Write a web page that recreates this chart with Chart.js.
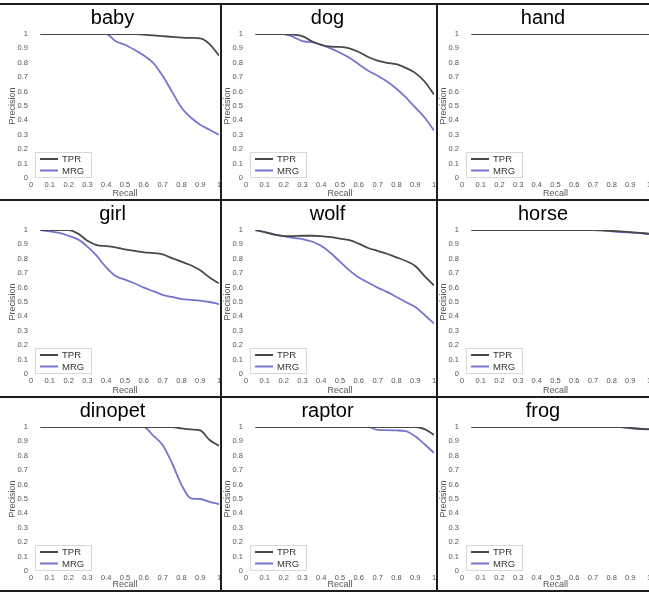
<!DOCTYPE html>
<html>
<head>
<meta charset="utf-8">
<script src="https://cdn.jsdelivr.net/npm/chart.js@4/dist/chart.umd.min.js"></script>
<style>
  html, body { margin: 0; padding: 0; background: #fff; }
  #wrap { position: relative; width: 649px; height: 594px; overflow: hidden; background: #fff; }
  #wrap canvas { position: absolute; }
  .rule { position: absolute; background: #1e1e1e; }
</style>
</head>
<body>
<div id="wrap"></div>
<script>
// Recall grid shared by every curve
const recall = [0.05, 0.1, 0.15, 0.2, 0.25, 0.3, 0.35, 0.4, 0.45, 0.5,
                0.55, 0.6, 0.65, 0.7, 0.75, 0.8, 0.85, 0.9, 0.95, 1.0];

const tickLabels = ['0', '0.1', '0.2', '0.3', '0.4', '0.5', '0.6', '0.7', '0.8', '0.9', '1'];

// Precision values
const babyTPR = [1, 1, 1, 1, 1, 1, 1, 1, 1, 1, 1, 0.995, 0.99, 0.985, 0.98, 0.975, 0.973, 0.97, 0.93, 0.85];
const babyMRG = [1, 1, 1, 1, 1, 1, 1, 1, 0.95, 0.925, 0.89, 0.85, 0.8, 0.71, 0.6, 0.49, 0.42, 0.37, 0.335, 0.3];

const dogTPR = [1, 1, 1, 1, 0.995, 0.985, 0.95, 0.925, 0.912, 0.91, 0.9, 0.875, 0.84, 0.815, 0.8, 0.79, 0.765, 0.73, 0.67, 0.58];
const dogMRG = [1, 1, 1, 1, 0.98, 0.95, 0.943, 0.925, 0.9, 0.87, 0.835, 0.79, 0.745, 0.71, 0.67, 0.62, 0.56, 0.49, 0.42, 0.33];

const handTPR = [1, 1, 1, 1, 1, 1, 1, 1, 1, 1, 1, 1, 1, 1, 1, 1, 1, 1, 1, 1];
const handMRG = [1, 1, 1, 1, 1, 1, 1, 1, 1, 1, 1, 1, 1, 1, 1, 1, 1, 1, 1, 1];

const girlTPR = [1, 1, 1, 1, 0.975, 0.925, 0.895, 0.888, 0.88, 0.865, 0.855, 0.845, 0.84, 0.83, 0.805, 0.78, 0.755, 0.72, 0.67, 0.63];
const girlMRG = [1, 0.99, 0.98, 0.96, 0.935, 0.885, 0.82, 0.74, 0.68, 0.655, 0.63, 0.6, 0.575, 0.55, 0.535, 0.52, 0.515, 0.51, 0.5, 0.485];

const wolfTPR = [1, 0.985, 0.968, 0.958, 0.958, 0.96, 0.96, 0.957, 0.95, 0.94, 0.93, 0.905, 0.875, 0.855, 0.835, 0.81, 0.785, 0.75, 0.68, 0.615];
const wolfMRG = [1, 0.985, 0.97, 0.957, 0.945, 0.937, 0.92, 0.89, 0.84, 0.78, 0.72, 0.67, 0.635, 0.6, 0.57, 0.535, 0.5, 0.465, 0.41, 0.35];

const horseTPR = [1, 1, 1, 1, 1, 1, 1, 1, 1, 1, 1, 1, 1, 1, 0.998, 0.993, 0.99, 0.985, 0.98, 0.975];
const horseMRG = [1, 1, 1, 1, 1, 1, 1, 1, 1, 1, 1, 1, 1, 1, 0.997, 0.99, 0.985, 0.982, 0.978, 0.972];

const dinopetTPR = [1, 1, 1, 1, 1, 1, 1, 1, 1, 1, 1, 1, 1, 1, 1, 0.99, 0.983, 0.976, 0.91, 0.87];
const dinopetMRG = [1, 1, 1, 1, 1, 1, 1, 1, 1, 1, 1, 1, 0.94, 0.875, 0.75, 0.6, 0.505, 0.5, 0.48, 0.465];

const raptorTPR = [1, 1, 1, 1, 1, 1, 1, 1, 1, 1, 1, 1, 1, 1, 1, 1, 1, 1, 0.985, 0.945];
const raptorMRG = [1, 1, 1, 1, 1, 1, 1, 1, 1, 1, 1, 1, 1, 0.98, 0.978, 0.976, 0.972, 0.935, 0.88, 0.82];

const frogTPR = [1, 1, 1, 1, 1, 1, 1, 1, 1, 1, 1, 1, 1, 1, 1, 1, 1, 0.993, 0.988, 0.985];
const frogMRG = [1, 1, 1, 1, 1, 1, 1, 1, 1, 1, 1, 1, 1, 1, 1, 1, 1, 0.992, 0.987, 0.983];

const panels = [
    { name: 'baby', tpr: babyTPR, mrg: babyMRG },
    { name: 'dog', tpr: dogTPR, mrg: dogMRG },
    { name: 'hand', tpr: handTPR, mrg: handMRG },
    { name: 'girl', tpr: girlTPR, mrg: girlMRG },
    { name: 'wolf', tpr: wolfTPR, mrg: wolfMRG },
    { name: 'horse', tpr: horseTPR, mrg: horseMRG },
    { name: 'dinopet', tpr: dinopetTPR, mrg: dinopetMRG },
    { name: 'raptor', tpr: raptorTPR, mrg: raptorMRG },
    { name: 'frog', tpr: frogTPR, mrg: frogMRG },
];

// grid geometry
const cols = [{ x: 0, w: 221, padL: 6, padR: 2 }, { x: 221, w: 216, padL: 0, padR: 3 }, { x: 437, w: 212, padL: 0, padR: 0 }];
const rows = [{ y: 4, h: 196 }, { y: 200, h: 197 }, { y: 397, h: 194 }];

const TPR_COLOR = '#484848';
const MRG_COLOR = '#7575cf';
const FONT = "'Liberation Sans', Arial, sans-serif";

// legend box drawn inside the plot, bottom-left
const insideLegend = {
    id: 'insideLegend',
    afterDatasetsDraw(chart) {
        const { ctx, chartArea } = chart;
        const bx = chartArea.left + 4, by = chartArea.bottom - 26, bw = 56, bh = 25;
        ctx.save();
        ctx.fillStyle = '#fff';
        ctx.fillRect(bx, by, bw, bh);
        ctx.strokeStyle = '#d8d8d8';
        ctx.lineWidth = 1;
        ctx.strokeRect(bx + 0.5, by + 0.5, bw, bh);
        ctx.font = '9.5px ' + FONT;
        ctx.textBaseline = 'middle';
        chart.data.datasets.forEach((ds, i) => {
            const ly = by + 7 + i * 11.5;
            ctx.strokeStyle = ds.borderColor;
            ctx.lineWidth = 2;
            ctx.beginPath();
            ctx.moveTo(bx + 5, ly);
            ctx.lineTo(bx + 23, ly);
            ctx.stroke();
            ctx.fillStyle = '#333';
            ctx.fillText(ds.label, bx + 27, ly + 0.5);
        });
        ctx.restore();
    }
};

const wrap = document.getElementById('wrap');

panels.forEach((p, idx) => {
    const col = cols[idx % 3];
    const row = rows[Math.floor(idx / 3)];
    const canvas = document.createElement('canvas');
    canvas.width = col.w;
    canvas.height = row.h;
    canvas.style.left = col.x + 'px';
    canvas.style.top = row.y + 'px';
    wrap.appendChild(canvas);

    new Chart(canvas, {
        type: 'line',
        data: {
            datasets: [
                { label: 'TPR', data: recall.map((r, i) => ({ x: r, y: p.tpr[i] })), borderColor: TPR_COLOR, borderWidth: 1.8 },
                { label: 'MRG', data: recall.map((r, i) => ({ x: r, y: p.mrg[i] })), borderColor: MRG_COLOR, borderWidth: 1.8 },
            ]
        },
        options: {
            responsive: false,
            animation: false,
            devicePixelRatio: 1,
            cubicInterpolationMode: 'monotone',
            elements: { point: { radius: 0 } },
            layout: { padding: { left: col.padL, right: col.padR, top: 0, bottom: 0 } },
            plugins: {
                legend: { display: false },
                tooltip: { enabled: false },
                title: {
                    display: true,
                    text: p.name,
                    color: '#000',
                    font: { family: FONT, size: 20, weight: 'normal', lineHeight: 1.2 },
                    padding: { top: 2.5, bottom: 3.5 }
                }
            },
            scales: {
                x: {
                    type: 'linear', min: 0, max: 1,
                    grid: { display: false, drawTicks: false },
                    border: { display: false },
                    ticks: { stepSize: 0.1, padding: 2, color: '#555', font: { family: FONT, size: 7.5 },
                             maxRotation: 0, autoSkip: false, callback: (v, i) => tickLabels[i] },
                    title: { display: true, text: 'Recall', color: '#555', font: { family: FONT, size: 9 }, padding: { top: 0, bottom: 1.5 } },
                    afterFit(scale) { scale.height = scale.chart.height - 174; scale.paddingLeft = 0; scale.paddingRight = 0; }
                },
                y: {
                    min: 0, max: 1,
                    grid: { display: false, drawTicks: false },
                    border: { display: false },
                    ticks: { stepSize: 0.1, padding: 3, color: '#555', font: { family: FONT, size: 7.5 },
                             callback: (v, i) => tickLabels[i] },
                    title: { display: true, text: 'Precision', color: '#555', font: { family: FONT, size: 9 }, padding: { top: 1.5, bottom: 0 } },
                    afterFit(scale) { scale.width = 25; }
                }
            }
        },
        plugins: [insideLegend]
    });
});

// black panel rules
const rules = [
    { l: 0, t: 3, w: 649, h: 2 },
    { l: 0, t: 199, w: 649, h: 2 },
    { l: 0, t: 396, w: 649, h: 2 },
    { l: 0, t: 590, w: 649, h: 2 },
    { l: 220, t: 3, w: 2, h: 589 },
    { l: 436, t: 3, w: 2, h: 589 },
];
rules.forEach(r => {
    const d = document.createElement('div');
    d.className = 'rule';
    d.style.left = r.l + 'px';
    d.style.top = r.t + 'px';
    d.style.width = r.w + 'px';
    d.style.height = r.h + 'px';
    wrap.appendChild(d);
});
</script>
</body>
</html>
